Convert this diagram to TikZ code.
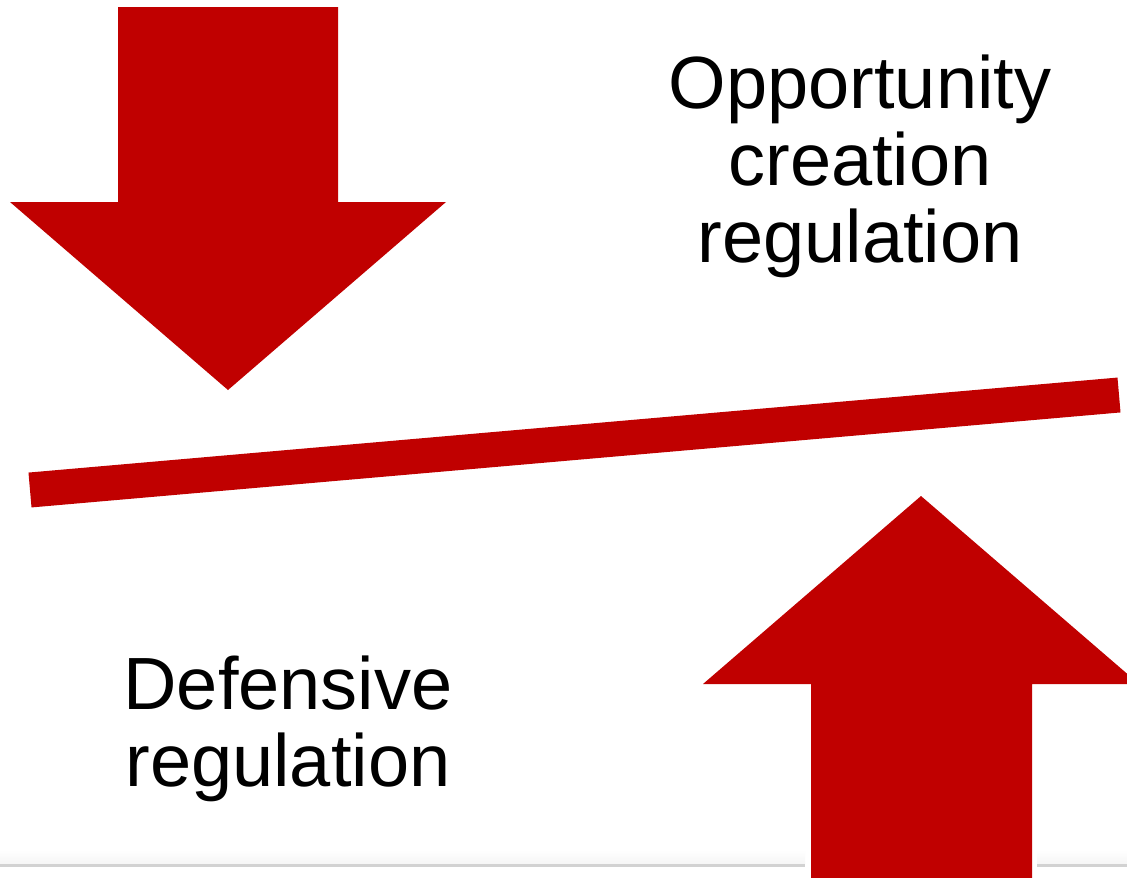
\documentclass[tikz,border=0pt]{standalone}
\usepackage{fontspec}
\setmainfont{Liberation Sans}
\definecolor{arrred}{HTML}{C00000}
\definecolor{rulegray}{HTML}{D2D2D2}
\begin{document}
\begin{tikzpicture}[x=1pt,y=-1pt,
  bigarrow/.style={fill=arrred},
  lbl/.style={font=\fontsize{74}{77}\selectfont, align=center, inner sep=0pt, anchor=base, text=black},
  rule/.style={draw=rulegray, line width=3pt}]
\useasboundingbox (0,0) rectangle (1127,878);
\fill[white] (0,0) rectangle (1127,878);
\begin{scope}
\clip (0,0) rectangle (1127,878);
% faint shadow above bottom rule
\shade[top color=white, bottom color=rulegray!20] (0,850) rectangle (805,863);
\shade[top color=white, bottom color=rulegray!20] (1037,850) rectangle (1127,863);
\draw[rule] (0,865) -- (805,865);
\draw[rule] (1037,865) -- (1127,865);
% down arrow
\fill[bigarrow] (118,7) -- (338,7) -- (338,202) -- (446,202) -- (228,390) -- (10,202) -- (118,202) -- cycle;
% up arrow
\fill[bigarrow] (811,890) -- (811,684) -- (703,684) -- (921,496) -- (1139,684) -- (1032,684) -- (1032,890) -- cycle;
% bar
\coordinate (barL) at (30,490);
\coordinate (barR) at (1119,395);
\draw[arrred, line width=35pt, line cap=butt] (barL) -- (barR);
\end{scope}
\node[lbl] (opp) at (860,262) {Opportunity\\creation\\regulation};
\node[lbl] (def) at (288,786) {Defensive\\regulation};
\end{tikzpicture}
\end{document}
